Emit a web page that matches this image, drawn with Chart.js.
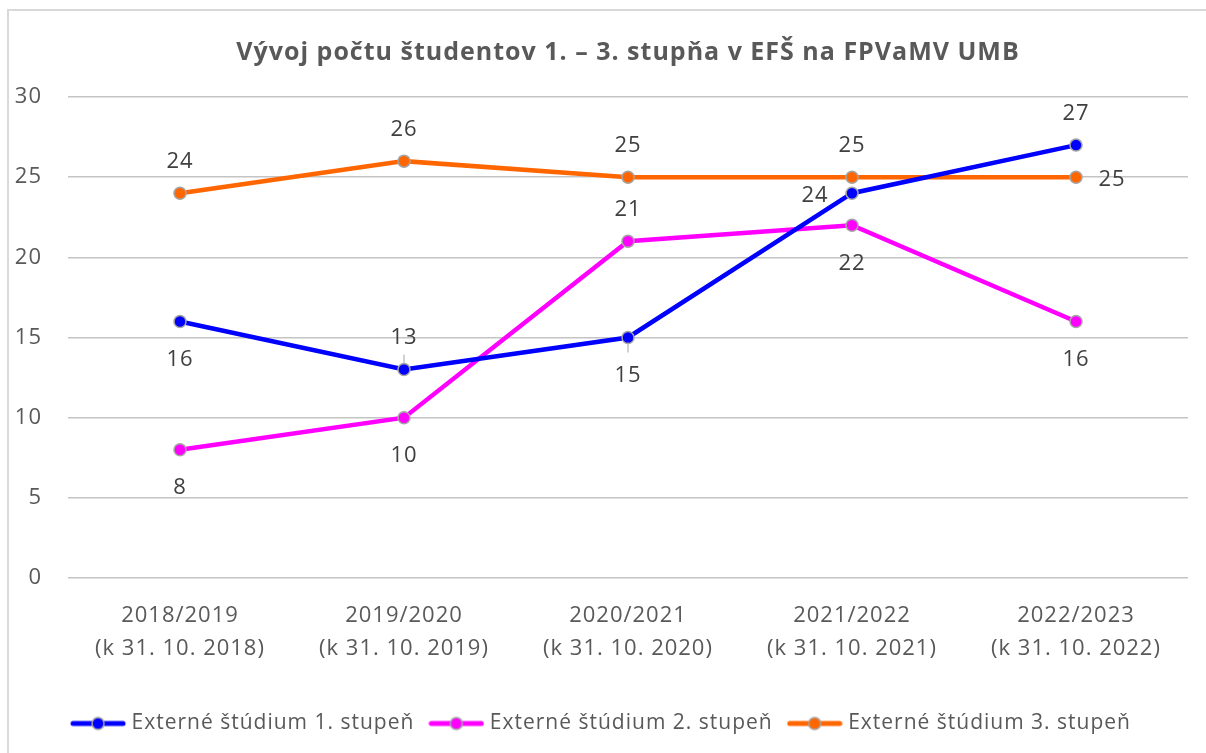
<!DOCTYPE html>
<html>
<head>
<meta charset="utf-8">
<script src="https://cdn.jsdelivr.net/npm/chart.js@4.4.0/dist/chart.umd.min.js"></script>
<style>
  html, body { margin: 0; padding: 0; background: #fff; overflow: hidden; }
  #frame { position: absolute; left: 7px; top: 9px; width: 1300px; height: 900px; border-top: 2px solid #d9d9d9; border-left: 2px solid #d9d9d9; }
  #lineChart { position: absolute; left: 0; top: 0; }
</style>
</head>
<body>
<div id="frame"></div>
<canvas id="lineChart" width="1206" height="753"></canvas>
<script>
const categories = [
    ['2018/2019', '(k 31. 10. 2018)'],
    ['2019/2020', '(k 31. 10. 2019)'],
    ['2020/2021', '(k 31. 10. 2020)'],
    ['2021/2022', '(k 31. 10. 2021)'],
    ['2022/2023', '(k 31. 10. 2022)']
];
const seriesNames = ['Externé štúdium 1. stupeň', 'Externé štúdium 2. stupeň', 'Externé štúdium 3. stupeň'];
const stupen1 = [16, 13, 15, 24, 27];
const stupen2 = [8, 10, 21, 22, 16];
const stupen3 = [24, 26, 25, 25, 25];
const yTicks = [0, 5, 10, 15, 20, 25, 30];

const colors = ['#0000ff', '#ff00ff', '#ff6600'];
// where each data label sits relative to its point
const labelPlace = [
    ['below', 'above', 'below', 'left', 'above'],
    ['below', 'below', 'above', 'below', 'below'],
    ['above', 'above', 'above', 'above', 'right']
];
const leaders = { '0-1': true, '0-2': true };

const FONT = '"Open Sans", sans-serif';

// legend symbol: line with a dot in the middle
function legendIcon(color) {
    const c = document.createElement('canvas');
    c.width = 56; c.height = 16;
    const g = c.getContext('2d');
    g.strokeStyle = color; g.lineWidth = 5; g.lineCap = 'round';
    g.beginPath(); g.moveTo(3, 8); g.lineTo(53, 8); g.stroke();
    g.beginPath(); g.arc(28, 8, 6, 0, Math.PI * 2);
    g.fillStyle = color; g.fill();
    g.lineWidth = 1.5; g.strokeStyle = '#a5a5a5'; g.stroke();
    return c;
}
const icons = colors.map(legendIcon);

// a bit of tracking so the text widths come closer to the original
const spacing = {
    id: 'spacing',
    beforeUpdate(chart) { chart.ctx.letterSpacing = '1px'; },
    beforeDraw(chart) { chart.ctx.letterSpacing = '1px'; }
};

const dataLabels = {
    id: 'dataLabels',
    afterDatasetsDraw(chart) {
        const ctx = chart.ctx;
        ctx.save();
        ctx.font = '22px ' + FONT;
        ctx.fillStyle = '#404040';
        ctx.textAlign = 'center';
        ctx.textBaseline = 'middle';
        chart.data.datasets.forEach((ds, di) => {
            chart.getDatasetMeta(di).data.forEach((pt, i) => {
                let x = pt.x, y = pt.y + 2.5;
                const p = labelPlace[di][i];
                if (p === 'above') y -= 34;
                if (p === 'below') y += 36;
                if (p === 'left') x -= 37;
                if (p === 'right') x += 36;
                if (leaders[di + '-' + i]) {
                    ctx.strokeStyle = '#a5a5a5';
                    ctx.lineWidth = 1;
                    ctx.beginPath();
                    if (p === 'above') { ctx.moveTo(pt.x, pt.y - 15); ctx.lineTo(pt.x, pt.y - 5); }
                    else { ctx.moveTo(pt.x, pt.y + 5); ctx.lineTo(pt.x, pt.y + 15); }
                    ctx.stroke();
                }
                ctx.fillText(String(ds.data[i]), x, y);
            });
        });
        ctx.restore();
    }
};

const datasetsAll = [stupen1, stupen2, stupen3].map((vals, k) => ({
    label: seriesNames[k],
    data: vals,
    borderColor: colors[k],
    backgroundColor: colors[k],
    borderWidth: 4.5,
    pointRadius: 6,
    pointHoverRadius: 6,
    pointBorderColor: '#a5a5a5',
    pointBorderWidth: 1.5,
    pointBackgroundColor: colors[k],
    tension: 0
}));

const ctxLine = document.getElementById('lineChart').getContext('2d');
const lineChart = new Chart(ctxLine, {
    type: 'line',
    data: { labels: categories, datasets: datasetsAll },
    plugins: [spacing, dataLabels],
    options: {
        responsive: false,
        animation: false,
        events: [],
        layout: { padding: { left: 0, right: 0, top: 0, bottom: 9 } },
        plugins: {
            title: {
                display: true,
                fullSize: false,
                text: 'Vývoj počtu študentov 1. – 3. stupňa v EFŠ na FPVaMV UMB',
                color: '#595959',
                font: { family: FONT, size: 25, weight: 'bold' },
                padding: { top: 38, bottom: 29 }
            },
            legend: {
                position: 'bottom',
                labels: {
                    color: '#595959',
                    font: { family: FONT, size: 21 },
                    usePointStyle: true,
                    pointStyleWidth: 46,
                    padding: 19,
                    generateLabels(chart) {
                        return Chart.defaults.plugins.legend.labels.generateLabels(chart).map((l, i) => {
                            l.pointStyle = icons[i];
                            return l;
                        });
                    }
                }
            },
            tooltip: { enabled: false }
        },
        scales: {
            x: {
                offset: true,
                grid: { display: false, drawTicks: false },
                border: { display: false },
                ticks: {
                    color: '#595959',
                    font: { family: FONT, size: 22, lineHeight: 1.5 },
                    padding: 21,
                    maxRotation: 0
                },
                afterFit(scale) { scale.height = 116; }
            },
            y: {
                min: 0,
                max: 30,
                afterBuildTicks(scale) { scale.ticks = yTicks.map(v => ({ value: v })); },
                grid: { color: '#c4c4c4', lineWidth: 1.5, drawTicks: false },
                border: { display: false },
                ticks: {
                    color: '#595959',
                    font: { family: FONT, size: 22 },
                    padding: 26
                },
                afterFit(scale) { scale.width = 68; }
            },
            // empty right margin, so the legend stays centred on the whole frame
            yRight: {
                position: 'right',
                min: 0,
                max: 30,
                grid: { display: false, drawTicks: false },
                border: { display: false },
                ticks: { display: false },
                afterFit(scale) { scale.width = 18; }
            }
        }
    }
});
</script>
</body>
</html>
